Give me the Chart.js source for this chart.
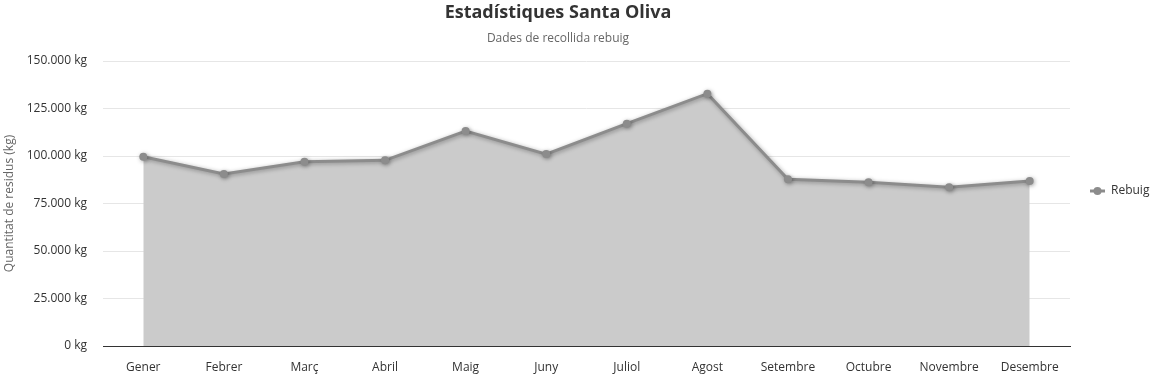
<!DOCTYPE html>
<html>
<head>
<meta charset="utf-8">
<script src="https://cdn.jsdelivr.net/npm/chart.js@4"></script>
<style>
html,body{margin:0;padding:0;background:#fff;}
#wrap{width:1159px;height:378px;position:relative;}
</style>
</head>
<body>
<div id="wrap"><canvas id="c" width="1159" height="378"></canvas></div>
<script>
const categories = ["Gener","Febrer","Març","Abril","Maig","Juny","Juliol","Agost","Setembre","Octubre","Novembre","Desembre"];
const rebuig = [99600, 90500, 97000, 97700, 113100, 101000, 117000, 132800, 87800, 86200, 83600, 86900];
const yTicks = [0, 25000, 50000, 75000, 100000, 125000, 150000];
const seriesName = "Rebuig";
const titleText = "Estadístiques Santa Oliva";
const subtitleText = "Dades de recollida rebuig";
const yTitle = "Quantitat de residus (kg)";

const FONT = "'Open Sans', 'Noto Sans', sans-serif";
const LINE = "#8c8c8c";

function fmt(v){
  return v.toString().replace(/\B(?=(\d{3})+(?!\d))/g, ".") + " kg";
}

const deco = {
  id: 'deco',
  beforeDatasetsDraw(chart){
    // nothing
  },
  beforeDatasetDraw(chart, args){
    const ctx = chart.ctx;
    ctx.save();
    ctx.shadowColor = 'rgba(0,0,0,0.35)';
    ctx.shadowBlur = 4;
    ctx.shadowOffsetX = 1;
    ctx.shadowOffsetY = 1;
  },
  afterDatasetDraw(chart){
    chart.ctx.restore();
  },
  afterDraw(chart){
    const ctx = chart.ctx;
    ctx.save();
    ctx.textAlign = 'center';
    ctx.textBaseline = 'middle';
    ctx.fillStyle = '#333333';
    ctx.font = "bold 18px " + FONT;
    ctx.fillText(titleText, 558, 13);
    ctx.fillStyle = '#666666';
    ctx.font = "12px " + FONT;
    ctx.fillText(subtitleText, 558, 39);
    // legend
    const ly = 191;
    ctx.strokeStyle = LINE;
    ctx.lineWidth = 3;
    ctx.beginPath();
    ctx.moveTo(1090, ly);
    ctx.lineTo(1105, ly);
    ctx.stroke();
    ctx.fillStyle = LINE;
    ctx.beginPath();
    ctx.arc(1097.5, ly, 4, 0, Math.PI*2);
    ctx.fill();
    ctx.fillStyle = '#333333';
    ctx.textAlign = 'left';
    ctx.font = "12px " + FONT;
    ctx.fillText(seriesName, 1111, ly);
    ctx.restore();
  }
};

new Chart(document.getElementById('c'), {
  type: 'line',
  data: {
    labels: categories,
    datasets: [{
      label: seriesName,
      data: rebuig,
      borderColor: LINE,
      backgroundColor: '#cbcbcb',
      borderWidth: 3,
      fill: 'origin',
      tension: 0,
      pointRadius: 4,
      pointBackgroundColor: LINE,
      pointBorderColor: LINE,
      pointBorderWidth: 0,
      pointHoverRadius: 4
    }]
  },
  options: {
    responsive: false,
    animation: false,
    events: [],
    layout: { padding: { left: 0, right: 89, top: 61, bottom: 0 } },
    plugins: {
      legend: { display: false },
      title: { display: false },
      tooltip: { enabled: false },
      filler: { drawTime: 'beforeDatasetsDraw' }
    },
    scales: {
      x: {
        offset: true,
        grid: { display: false, drawTicks: false },
        border: { display: true, color: '#333333', width: 1 },
        ticks: { color: '#333333', font: { family: FONT, size: 12 }, padding: 14, maxRotation: 0, autoSkip: false },
        afterFit(s){ s.height = 32; }
      },
      y: {
        min: 0, max: 150000,
        afterBuildTicks(s){ s.ticks = yTicks.map(v => ({ value: v })); },
        grid: { color: '#e6e6e6', drawTicks: false },
        border: { display: false },
        ticks: { color: '#333333', font: { family: FONT, size: 12 }, padding: 16, callback: v => fmt(v) },
        title: { display: true, text: yTitle, color: '#666666', font: { family: FONT, size: 12 }, padding: { top: 2, bottom: 0 } },
        afterFit(s){ s.width = 103; }
      }
    }
  },
  plugins: [deco]
});
</script>
</body>
</html>
